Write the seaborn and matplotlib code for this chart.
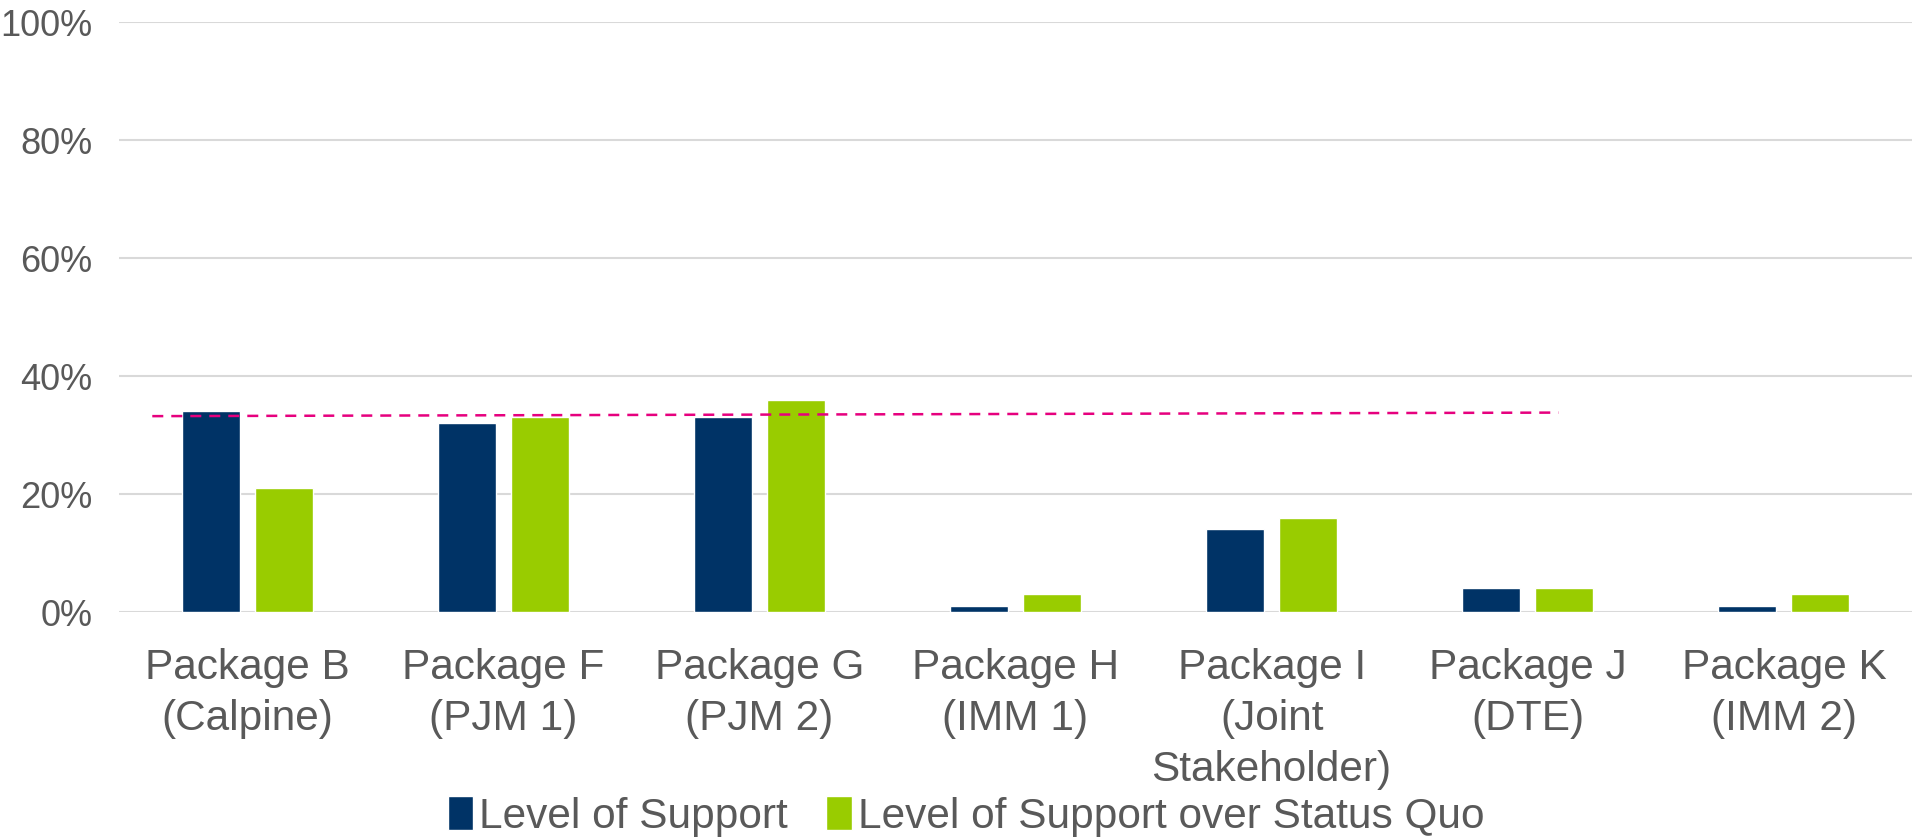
import pandas as pd
import seaborn as sns
import matplotlib.pyplot as plt
from matplotlib.ticker import PercentFormatter

sns.set_theme(style="white")
plt.rcParams['font.family'] = ['Liberation Sans', 'DejaVu Sans']

# Data
packages = ["Package B\n(Calpine)", "Package F\n(PJM 1)", "Package G\n(PJM 2)",
            "Package H\n(IMM 1)", "Package I\n(Joint\nStakeholder)", "Package J\n(DTE)",
            "Package K\n(IMM 2)"]
support = [34, 32, 33, 1, 14, 4, 1]
support_over_sq = [21, 33, 36, 3, 16, 4, 3]
series_names = ["Level of Support", "Level of Support over Status Quo"]

# Dashed reference line (hand-drawn in the original, slightly sloped)
ref_x = [-0.37, 5.12]
ref_y = [33.2, 33.8]

colors = ["#003366", "#99CC00"]
text_color = "#595959"

df = pd.DataFrame({
    "Package": packages * 2,
    "Series": [series_names[0]] * len(packages) + [series_names[1]] * len(packages),
    "Value": support + support_over_sq,
})

fig = plt.figure(figsize=(19.13, 8.40), dpi=100)
ax = fig.add_axes([0.0622, 0.2714, 0.9373, 0.7024])

sns.barplot(data=df, x="Package", y="Value", hue="Series", palette=colors,
            width=0.57, gap=0.205, saturation=1, ax=ax, legend=False)

ax.plot(ref_x, ref_y, color="#E6007E", linewidth=1.8, dashes=(4.4, 3.2))

ax.set_ylim(0, 100)
ax.set_xlim(-0.5, len(packages) - 0.5)
ax.set_yticks([0, 20, 40, 60, 80, 100])
ax.yaxis.set_major_formatter(PercentFormatter(decimals=0))
ax.grid(axis="y", color="#D9D9D9", linewidth=1.5)
ax.set_axisbelow(True)
for s in ax.spines.values():
    s.set_visible(False)
ax.set_xlabel("")
ax.set_ylabel("")
ax.tick_params(axis="y", length=0, pad=19, labelsize=26, labelcolor=text_color)
ax.tick_params(axis="x", length=0, pad=26, labelsize=30.5, labelcolor=text_color)
for lbl in ax.get_xticklabels():
    lbl.set_linespacing(1.36)

handles = [plt.Rectangle((0, 0), 1, 1, facecolor=c) for c in colors]
fig.legend(handles, series_names, loc="center", bbox_to_anchor=(0.505, 0.028),
           ncol=2, frameon=False, fontsize=30.5, labelcolor=text_color,
           handlelength=0.6, handleheight=0.85, handletextpad=0.15,
           columnspacing=0.9, borderpad=0)

plt.savefig("out.png", dpi=100)
